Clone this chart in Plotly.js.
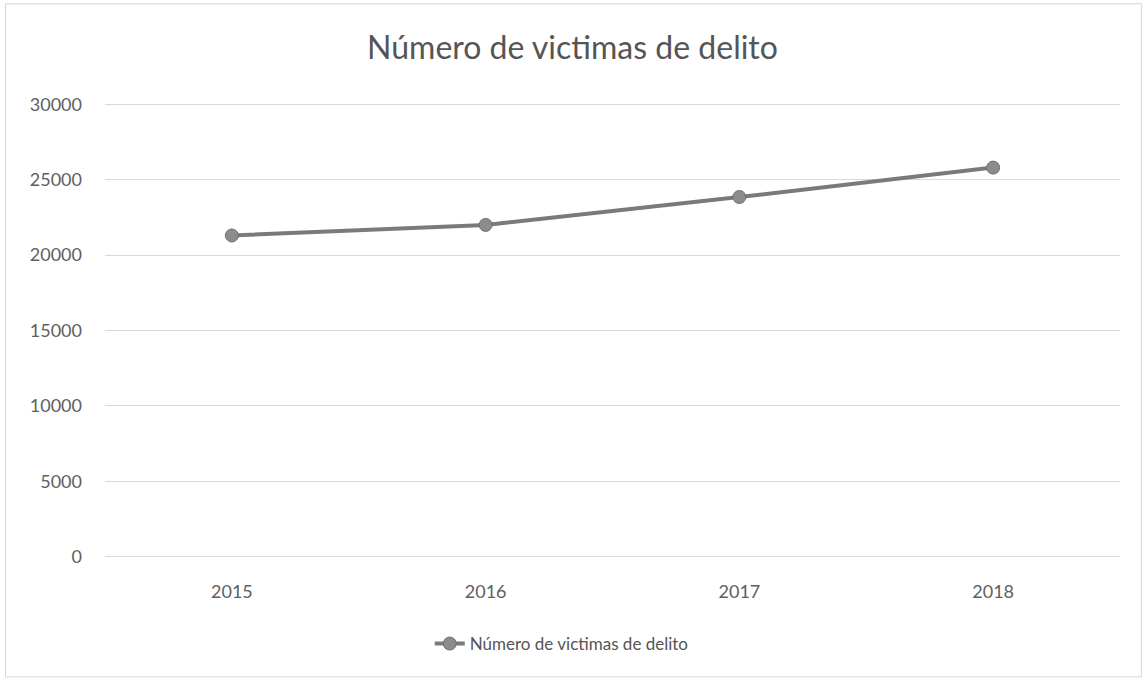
<!DOCTYPE html>
<html>
<head>
<meta charset="utf-8">
<script src="https://cdn.plot.ly/plotly-3.0.1.min.js"></script>
<style>html,body{margin:0;padding:0;background:#fff;}#chart{width:1145px;height:680px;}</style>
</head>
<body>
<div id="chart"></div>
<script>
const years = ['2015', '2016', '2017', '2018'];
const victims = [21300, 22000, 23850, 25800];
const seriesName = 'Número de victimas de delito';
const chartTitle = 'Número de victimas de delito';
const yTicks = [0, 5000, 10000, 15000, 20000, 25000, 30000];

const FONT = 'Lato, "Open Sans", "Noto Sans", sans-serif';
const trace = {
  x: years,
  y: victims,
  type: 'scatter',
  mode: 'lines+markers',
  name: seriesName,
  line: {color: '#7a7a7a', width: 4},
  marker: {color: '#8c8c8c', size: 13, line: {color: '#6e6e6e', width: 1}}
};
const layout = {
  width: 1145, height: 680,
  paper_bgcolor: '#ffffff', plot_bgcolor: '#ffffff',
  margin: {l: 105, r: 25, t: 102, b: 121},
  title: {text: chartTitle, x: 0.5, xanchor: 'center', y: 0.93, yanchor: 'middle',
          font: {family: FONT, size: 32, color: '#555555'}},
  xaxis: {type: 'category', range: [-0.5, 3.5], showgrid: false, zeroline: false,
          showline: false, ticks: '', ticklabelstandoff: 20,
          tickfont: {family: FONT, size: 18, color: '#606060'}},
  yaxis: {range: [-150, 30150], tickvals: yTicks, ticktext: yTicks.map(String),
          showgrid: true, gridcolor: '#d9d9d9', gridwidth: 1, zeroline: false,
          showline: false, ticks: '', ticklabelstandoff: 22,
          tickfont: {family: FONT, size: 18, color: '#606060'}},
  showlegend: true,
  legend: {orientation: 'h', x: 0.45, xanchor: 'center', y: -0.186, yanchor: 'middle',
           font: {family: FONT, size: 17, color: '#555555'}},
  shapes: [
    {type: 'rect', xref: 'paper', yref: 'paper', x0: -0.098, x1: 1.021, y0: -0.258, y1: 1.215,
     line: {color: '#d6d6d6', width: 1}}
  ]
};
Plotly.newPlot('chart', [trace], layout, {displayModeBar: false, staticPlot: true});
</script>
</body>
</html>
